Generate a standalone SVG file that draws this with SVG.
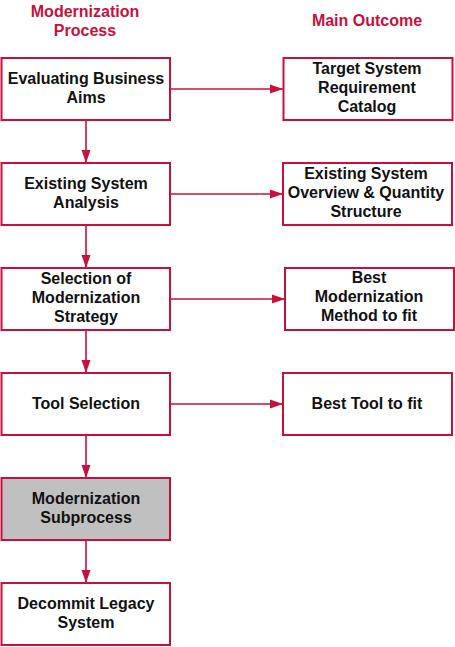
<svg xmlns="http://www.w3.org/2000/svg" width="455" height="647" viewBox="0 0 455 647">
<defs>
<style>
.box{fill:#fff;stroke:#C8103C;stroke-width:2}
.sub{fill:#C0C0C0;stroke:#C8103C;stroke-width:2}
.t{font-family:"Liberation Sans",Arial,sans-serif;font-weight:bold;font-size:16px;fill:#111;text-anchor:middle}
.h{font-family:"Liberation Sans",Arial,sans-serif;font-weight:bold;font-size:16px;fill:#C8103C;text-anchor:middle}
.c{stroke:#C8103C;stroke-width:1.6;fill:none}
</style>
<marker id="ah" markerUnits="userSpaceOnUse" markerWidth="14" markerHeight="10" refX="13" refY="5" orient="auto">
<path d="M0,0.5 L13,5 L0,9.5 Z" fill="#C8103C"/>
</marker>
</defs>
<rect width="455" height="647" fill="#fff"/>
<g id="headers">
<text class="h" x="85" y="17">Modernization</text>
<text class="h" x="85" y="36">Process</text>
<text class="h" x="367" y="26">Main Outcome</text>
</g>
<g id="connectors">
<line class="c" x1="86" y1="120" x2="86" y2="163" marker-end="url(#ah)"/>
<line class="c" x1="86" y1="225" x2="86" y2="268" marker-end="url(#ah)"/>
<line class="c" x1="86" y1="330" x2="86" y2="373" marker-end="url(#ah)"/>
<line class="c" x1="86" y1="435" x2="86" y2="478" marker-end="url(#ah)"/>
<line class="c" x1="86" y1="540" x2="86" y2="583" marker-end="url(#ah)"/>
<line class="c" x1="170" y1="89" x2="283" y2="89" marker-end="url(#ah)"/>
<line class="c" x1="170" y1="194" x2="283" y2="194" marker-end="url(#ah)"/>
<line class="c" x1="170" y1="299" x2="285" y2="299" marker-end="url(#ah)"/>
<line class="c" x1="170" y1="404" x2="283" y2="404" marker-end="url(#ah)"/>
</g>
<g id="n1"><rect class="box" x="1.5" y="58" width="168.5" height="62"/>
<text class="t" x="86" y="84">Evaluating Business</text><text class="t" x="86" y="103">Aims</text></g>
<g id="n2"><rect class="box" x="1.5" y="163" width="168.5" height="62"/>
<text class="t" x="86" y="189">Existing System</text><text class="t" x="86" y="208">Analysis</text></g>
<g id="n3"><rect class="box" x="1.5" y="268" width="168.5" height="62"/>
<text class="t" x="86" y="284">Selection of</text><text class="t" x="86" y="303">Modernization</text><text class="t" x="86" y="322">Strategy</text></g>
<g id="n4"><rect class="box" x="1.5" y="373" width="168.5" height="62"/>
<text class="t" x="86" y="409">Tool Selection</text></g>
<g id="n5"><rect class="sub" x="1.5" y="478" width="168.5" height="62"/>
<text class="t" x="86" y="504">Modernization</text><text class="t" x="86" y="523">Subprocess</text></g>
<g id="n6"><rect class="box" x="1.5" y="583" width="168.5" height="62"/>
<text class="t" x="86" y="609">Decommit Legacy</text><text class="t" x="86" y="628">System</text></g>
<g id="o1"><rect class="box" x="283.5" y="58" width="169" height="62"/>
<text class="t" x="367" y="74">Target System</text><text class="t" x="367" y="93">Requirement</text><text class="t" x="367" y="112">Catalog</text></g>
<g id="o2"><rect class="box" x="283" y="163" width="169" height="62"/>
<text class="t" x="366" y="179">Existing System</text><text class="t" x="366" y="198">Overview &amp; Quantity</text><text class="t" x="366" y="217">Structure</text></g>
<g id="o3"><rect class="box" x="285" y="268" width="169" height="62"/>
<text class="t" x="369" y="283">Best</text><text class="t" x="369" y="302">Modernization</text><text class="t" x="369" y="321">Method to fit</text></g>
<g id="o4"><rect class="box" x="283" y="373" width="169" height="62"/>
<text class="t" x="367" y="409">Best Tool to fit</text></g>
</svg>
